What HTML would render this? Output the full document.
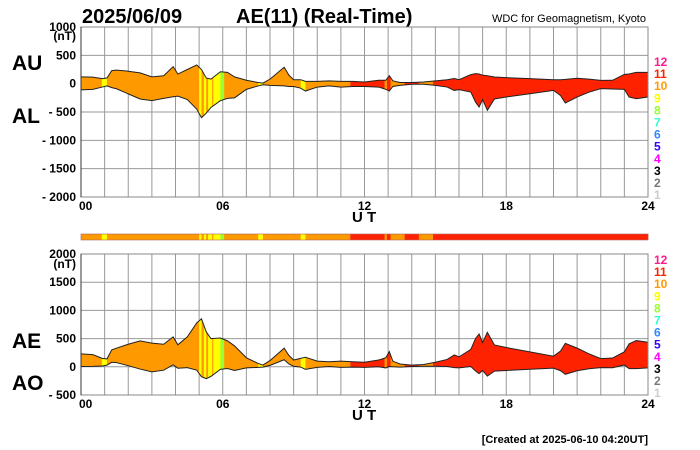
<!DOCTYPE html>
<html><head><meta charset="utf-8"><style>
body{margin:0;background:#fff;}
svg{display:block;font-family:"Liberation Sans",Arial,sans-serif;font-weight:bold;}
</style></head><body>
<svg id="chart" width="700" height="450" viewBox="0 0 700 450">
<text x="82" y="23" font-size="20">2025/06/09</text>
<text x="236" y="23" font-size="20">AE(11) (Real-Time)</text>
<text x="646" y="22" font-size="11" text-anchor="end" font-weight="normal">WDC for Geomagnetism, Kyoto</text>
<text x="12" y="70" font-size="21">AU</text>
<text x="12" y="123" font-size="21">AL</text>
<text x="12" y="348" font-size="21">AE</text>
<text x="12" y="390" font-size="21">AO</text>
<text x="648" y="443" font-size="11" text-anchor="end">[Created at 2025-06-10 04:20UT]</text>
<g id="g"></g>
</svg>
<script>
const hours=[0,0.5,0.9,1.1,1.3,1.5,2,2.5,3,3.5,3.9,4.1,4.5,4.9,5.1,5.3,5.5,5.9,6.2,6.5,7,7.5,7.7,8,8.6,8.8,9,9.3,9.5,10,10.5,11,11.5,12,12.6,12.9,13.05,13.2,13.5,14,14.5,15,15.5,15.8,16,16.5,16.7,16.85,17,17.2,17.5,18,19,20,20.3,20.5,21,21.5,22,22.5,23,23.2,23.5,24];
const au=[120,115,90,100,230,240,220,190,120,140,300,170,250,330,250,100,80,210,200,120,60,20,10,80,290,150,70,70,40,40,50,40,40,30,60,60,140,50,20,20,30,50,70,90,70,160,177,170,150,140,117,106,88,70,70,75,95,80,58,60,165,170,200,200];
const al=[-110,-100,-60,-40,-70,-90,-180,-270,-300,-260,-230,-220,-280,-450,-600,-520,-420,-300,-260,-250,-100,-40,-20,-30,-40,-50,-50,-80,-130,-60,-40,-60,-50,-50,-60,-100,-130,-50,-30,-10,-10,-30,-60,-120,-106,-148,-325,-412,-280,-470,-270,-236,-177,-118,-210,-340,-236,-150,-88,-95,-100,-236,-265,-236];
const segStart=[0,0.88,1.1,5.0,5.1,5.2,5.3,5.38,5.55,5.6,5.9,6.06,7.5,7.7,9.3,9.5,11.4,12.85,12.95,13.1,13.7,14.3,14.9];
const segEnd=[0.88,1.1,5.0,5.1,5.2,5.3,5.38,5.55,5.6,5.9,6.06,7.5,7.7,9.3,9.5,11.4,12.85,12.95,13.1,13.7,14.3,14.9,24];
const segClass=[10,9,10,9,10,9,10,9,10,9,8,10,9,10,9,10,11,10,11,10,11,10,11];
const yTicksTop=[1000,500,0,-500,-1000,-1500,-2000];
const yTickLabelsTop=["1000","500","0","- 500","- 1000","- 1500","- 2000"];
const yTicksBot=[2000,1500,1000,500,0,-500];
const yTickLabelsBot=["2000","1500","1000","500","0","- 500"];
const xTicks=[0,6,12,18,24];
const xTickLabels=["00","06","12","18","24"];
const legendClasses=[12,11,10,9,8,7,6,5,4,3,2,1];
const classColor={12:"#ff1a8c",11:"#ff2200",10:"#ff9900",9:"#ffff00",8:"#99ff33",7:"#33ffcc",6:"#3388ff",5:"#3300ff",4:"#ff00ff",3:"#000000",2:"#777777",1:"#cccccc"};
const ae=au.map((v,i)=>v-al[i]);
const ao=au.map((v,i)=>(v+al[i])/2);

const NS="http://www.w3.org/2000/svg";
const G=document.getElementById('g');
function mk(t,a,p){const e=document.createElementNS(NS,t);for(const k in a)e.setAttribute(k,a[k]);(p||G).appendChild(e);return e;}
const X0=81,X1=648;
const xs=h=>X0+(X1-X0)*h/24;

function panel(id,yTop,yBot,vTop,vBot,ticks,labels,upper,lower,cx,cy,unitY){
  const ys=v=>yTop+(vTop-v)/(vTop-vBot)*(yBot-yTop);
  const g=mk('g',{});
  
  
  for(let h=0;h<=24;h++){const l=mk('line',{x1:xs(h),x2:xs(h),y1:yTop,y2:yBot,stroke:'#999','stroke-width':1},g);
    }
  ticks.forEach((t,i)=>{const l=mk('line',{x1:X0,x2:X1,y1:ys(t),y2:ys(t),stroke:'#999','stroke-width':1},g);
    
    const tx=mk('text',{x:76,y:ys(t)+4,'font-size':12,'text-anchor':'end'},g);tx.textContent=labels[i];
    });
  const u=mk('text',{x:76,y:unitY,'font-size':12,'text-anchor':'end'},g);u.textContent='(nT)';
  
  let pts=hours.map((h,i)=>xs(h)+','+ys(upper[i]));
  for(let i=hours.length-1;i>=0;i--)pts.push(xs(hours[i])+','+ys(lower[i]));
  const cp=mk('clipPath',{id:'clip-'+id},g);mk('polygon',{points:pts.join(' ')},cp);
  const fg=mk('g',{'clip-path':'url(#clip-'+id+')'},g);
  segStart.forEach((s,i)=>{const r=mk('rect',{x:xs(s),y:yTop,width:xs(segEnd[i])-xs(s)+0.3,height:yBot-yTop,fill:classColor[segClass[i]]},fg);
    });
  [upper,lower].forEach((arr,k)=>{const p=mk('polyline',{points:hours.map((h,i)=>xs(h)+','+ys(arr[i])).join(' '),fill:'none',stroke:'#222','stroke-width':1},g);
    });
  const f=mk('rect',{x:X0,y:yTop,width:X1-X0,height:yBot-yTop,fill:'none',stroke:'#888'},g);
  
  mk('line',{x1:X0,x2:X0,y1:yTop,y2:yBot,stroke:'#333'},g);
  xTicks.forEach((t,i)=>{const tx=mk('text',{x:xs(t),y:yBot+13,'font-size':12,'text-anchor':i==0?'start':'middle'},g);tx.textContent=xTickLabels[i];
    if(i==0)tx.setAttribute('x',X0-2);
    });
  if(cx){const ut=mk('text',{x:352,y:yBot+25,'font-size':15},g);ut.textContent='U T';
    }
  legendClasses.forEach((c,i)=>{const t=mk('text',{x:654,y:cy+i*12.1,'font-size':12,fill:classColor[c]},g);t.textContent=c;
    });
}
panel('au-al',27,197,1000,-2000,yTicksTop,yTickLabelsTop,au,al,true,66,40);
panel('ae-ao',254,395,2000,-500,yTicksBot,yTickLabelsBot,ae,ao,true,264,268);
const cb=mk('g',{});


segStart.forEach((s,i)=>{const r=mk('rect',{x:xs(s),y:234,width:xs(segEnd[i])-xs(s)+0.3,height:6,fill:classColor[segClass[i]]},cb);
  });
mk('rect',{x:X0,y:234,width:X1-X0,height:6,fill:'none',stroke:'#a66',"stroke-width":0.6},cb);
</script>
</body></html>
